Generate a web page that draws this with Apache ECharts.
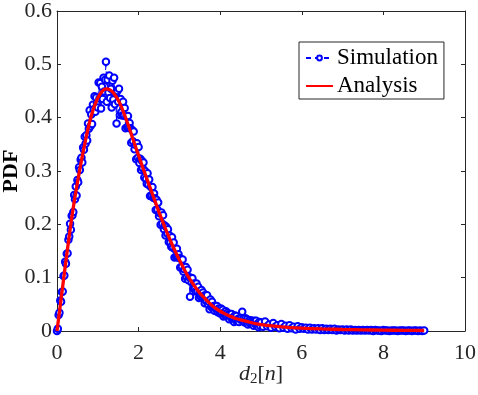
<!DOCTYPE html>
<html><head><meta charset="utf-8">
<script src="https://cdn.jsdelivr.net/npm/echarts@6/dist/echarts.min.js"></script>
<style>html,body{margin:0;padding:0;background:#fff}#c{width:478px;height:395px}</style>
</head><body><div id="c"></div>
<script>
// Tick labels
const xTicks = [0, 2, 4, 6, 8, 10];
const yTicks = [0, 0.1, 0.2, 0.3, 0.4, 0.5, 0.6];

// Analysis curve
const anaX = [0,0.1,0.2,0.3,0.4,0.5,0.6,0.7,0.8,0.9,1.0,1.1,1.2,1.3,1.4,1.5,1.6,1.7,1.8,1.9,2.0,2.1,2.2,2.3,2.4,2.5,2.6,2.7,2.8,2.9,3.0,3.1,3.2,3.3,3.4,3.5,3.6,3.7,3.8,3.9,4.0,4.1,4.2,4.3,4.4,4.5,4.6,4.7,4.8,4.9,5.0,5.5,6.0,6.5,7.0,7.5,8.0,8.5,9.0];
const anaY = [0,0.060,0.120,0.178,0.232,0.278,0.320,0.358,0.392,0.418,0.437,0.449,0.454,0.452,0.445,0.433,0.416,0.396,0.374,0.351,0.329,0.307,0.286,0.265,0.244,0.223,0.203,0.184,0.166,0.149,0.133,0.118,0.104,0.092,0.081,0.071,0.063,0.055,0.048,0.042,0.037,0.033,0.029,0.026,0.023,0.021,0.019,0.017,0.015,0.0135,0.012,0.0078,0.0053,0.0038,0.0028,0.0021,0.0016,0.0012,0.0009];

// Simulation samples
const simX = [
0.00,0.02,0.04,0.06,0.08,0.10,0.12,0.14,0.16,0.18,
0.20,0.22,0.24,0.26,0.28,0.30,0.32,0.34,0.36,0.38,
0.40,0.42,0.44,0.46,0.48,0.50,0.52,0.54,0.56,0.58,
0.60,0.62,0.64,0.66,0.68,0.70,0.72,0.74,0.76,0.78,
0.80,0.82,0.84,0.86,0.88,0.90,0.92,0.94,0.96,0.98,
1.00,1.02,1.04,1.06,1.08,1.10,1.12,1.14,1.16,1.18,
1.20,1.22,1.24,1.26,1.28,1.30,1.32,1.34,1.36,1.38,
1.40,1.42,1.44,1.46,1.48,1.50,1.52,1.54,1.56,1.58,
1.60,1.62,1.64,1.66,1.68,1.70,1.72,1.74,1.76,1.78,
1.80,1.82,1.84,1.86,1.88,1.90,1.92,1.94,1.96,1.98,
2.00,2.02,2.04,2.06,2.08,2.10,2.12,2.14,2.16,2.18,
2.20,2.22,2.24,2.26,2.28,2.30,2.32,2.34,2.36,2.38,
2.40,2.42,2.44,2.46,2.48,2.50,2.52,2.54,2.56,2.58,
2.60,2.62,2.64,2.66,2.68,2.70,2.72,2.74,2.76,2.78,
2.80,2.82,2.84,2.86,2.88,2.90,2.92,2.94,2.96,2.98,
3.00,3.02,3.04,3.06,3.08,3.10,3.12,3.14,3.16,3.18,
3.20,3.22,3.24,3.26,3.28,3.30,3.32,3.34,3.36,3.38,
3.40,3.42,3.44,3.46,3.48,3.50,3.52,3.54,3.56,3.58,
3.60,3.62,3.64,3.66,3.68,3.70,3.72,3.74,3.76,3.78,
3.80,3.82,3.84,3.86,3.88,3.90,3.92,3.94,3.96,3.98,
4.00,4.02,4.04,4.06,4.08,4.10,4.12,4.14,4.16,4.18,
4.20,4.22,4.24,4.26,4.28,4.30,4.32,4.34,4.36,4.38,
4.40,4.42,4.44,4.46,4.48,4.50,4.52,4.54,4.56,4.58,
4.60,4.62,4.64,4.66,4.68,4.70,4.72,4.74,4.76,4.78,
4.80,4.82,4.84,4.86,4.88,4.90,4.92,4.94,4.96,4.98,
5.00,
5.05,5.10,5.15,5.20,5.25,5.30,5.35,5.40,5.45,5.50,
5.55,5.60,5.65,5.70,5.75,5.80,5.85,5.90,5.95,6.00,
6.05,6.10,6.15,6.20,6.25,6.30,6.35,6.40,6.45,6.50,
6.55,6.60,6.65,6.70,6.75,6.80,6.85,6.90,6.95,7.00,
7.05,7.10,7.15,7.20,7.25,7.30,7.35,7.40,7.45,7.50,
7.55,7.60,7.65,7.70,7.75,7.80,7.85,7.90,7.95,8.00,
8.05,8.10,8.15,8.20,8.25,8.30,8.35,8.40,8.45,8.50,
8.55,8.60,8.65,8.70,8.75,8.80,8.85,8.90,8.95,9.00];
const simY = [
0.000,0.004,0.030,0.034,0.057,0.055,0.073,0.074,0.103,0.104,
0.130,0.126,0.145,0.146,0.171,0.177,0.201,0.190,0.216,0.217,
0.223,0.255,0.247,0.271,0.254,0.283,0.279,0.307,0.302,0.321,
0.325,0.316,0.344,0.340,0.364,0.351,0.367,0.357,0.389,0.379,
0.414,0.384,0.406,0.388,0.424,0.416,0.440,0.411,0.438,0.426,
0.419,0.466,0.436,0.465,0.417,0.458,0.435,0.475,0.449,0.471,
0.505,0.430,0.471,0.447,0.479,0.437,0.454,0.419,0.469,0.434,
0.475,0.425,0.446,0.389,0.450,0.430,0.454,0.405,0.435,0.410,
0.404,0.430,0.404,0.418,0.380,0.402,0.382,0.403,0.381,0.390,
0.380,0.353,0.377,0.356,0.374,0.341,0.349,0.322,0.352,0.325,
0.345,0.315,0.323,0.302,0.319,0.305,0.316,0.288,0.300,0.285,
0.276,0.296,0.274,0.284,0.253,0.270,0.253,0.270,0.250,0.258,
0.249,0.227,0.246,0.228,0.241,0.215,0.221,0.199,0.222,0.201,
0.217,0.191,0.198,0.179,0.195,0.183,0.191,0.167,0.179,0.166,
0.158,0.176,0.156,0.166,0.138,0.153,0.139,0.154,0.138,0.144,
0.137,0.119,0.135,0.121,0.134,0.111,0.116,0.098,0.120,0.101,
0.115,0.095,0.101,0.064,0.100,0.091,0.099,0.080,0.089,0.080,
0.074,0.089,0.075,0.083,0.062,0.074,0.064,0.077,0.065,0.072,
0.066,0.052,0.067,0.056,0.067,0.050,0.055,0.041,0.059,0.045,
0.055,0.043,0.047,0.038,0.047,0.041,0.047,0.035,0.042,0.036,
0.033,0.042,0.034,0.040,0.027,0.035,0.029,0.037,0.029,0.034,
0.031,0.022,0.032,0.026,0.032,0.022,0.026,0.017,0.029,0.020,
0.028,0.019,0.023,0.017,0.024,0.021,0.024,0.036,0.022,0.018,
0.016,0.024,0.017,0.022,0.012,0.019,0.015,0.020,0.016,0.019,
0.017,0.010,0.019,0.013,0.019,0.011,0.014,0.007,0.017,0.010,
0.016,
0.008,0.018,0.009,0.012,0.006,0.015,0.008,0.011,0.005,0.013,
0.006,0.010,0.004,0.011,0.005,0.008,0.003,0.009,0.004,0.007,
0.004,0.006,0.003,0.006,0.003,0.005,0.003,0.005,0.002,0.005,
0.002,0.004,0.002,0.004,0.002,0.004,0.001,0.003,0.002,0.003,
0.001,0.003,0.001,0.003,0.001,0.002,0.001,0.002,0.001,0.002,
0.001,0.002,0.001,0.002,0.000,0.002,0.001,0.001,0.000,0.002,
0.001,0.001,0.000,0.001,0.001,0.001,0.000,0.001,0.001,0.001,
0.000,0.001,0.001,0.000,0.001,0.001,0.000,0.001,0.000,0.001];

const FONT = "'Liberation Serif','Times New Roman',serif";
const AX = '#262626';
const chart = echarts.init(document.getElementById('c'), null, {renderer: 'canvas'});

const xCommon = {type: 'value', min: 0, max: 10, interval: 2,
  axisLine: {show: true, onZero: false, lineStyle: {color: AX, width: 1}},
  axisTick: {show: true, inside: true, length: 4, lineStyle: {color: AX}},
  splitLine: {show: false}};
const yCommon = {type: 'value', min: 0, max: 0.6, interval: 0.1,
  axisLine: {show: true, onZero: false, lineStyle: {color: AX, width: 1}},
  axisTick: {show: true, inside: true, length: 4, lineStyle: {color: AX}},
  splitLine: {show: false}};

chart.setOption({
  animation: false,
  grid: {left: 57, right: 13, top: 11, bottom: 64, containLabel: false, outerBoundsMode: 'none'},
  xAxis: [
    Object.assign({}, xCommon, {position: 'bottom',
      axisLabel: {color: AX, fontFamily: FONT, fontSize: 22, margin: 11,
        formatter: v => xTicks.includes(v) ? String(v) : ''},
      name: '{i|d}{s|2}{n|[}{i|n}{n|]}', nameLocation: 'middle', nameGap: 31, nameMoveOverlap: false,
      nameTextStyle: {rich: {
        i: {fontFamily: FONT, fontStyle: 'italic', fontSize: 22, color: AX},
        s: {fontFamily: FONT, fontSize: 15, color: AX, padding: [10, 0, 0, 0]},
        n: {fontFamily: FONT, fontSize: 22, color: AX}}}}),
    Object.assign({}, xCommon, {position: 'top', axisLabel: {show: false}})
  ],
  yAxis: [
    Object.assign({}, yCommon, {position: 'left',
      axisLabel: {color: AX, fontFamily: FONT, fontSize: 22, margin: 5,
        formatter: v => { const t = yTicks.find(k => Math.abs(k - v) < 1e-9); return t === undefined ? '' : String(t); }},
      name: 'PDF', nameLocation: 'middle', nameGap: 35, nameRotate: 90, nameMoveOverlap: false,
      nameTextStyle: {fontFamily: FONT, fontSize: 22, fontWeight: 'bold', color: '#000'}}),
    Object.assign({}, yCommon, {position: 'right', axisLabel: {show: false}})
  ],
  legend: {
    orient: 'vertical', left: 299, top: 42,
    padding: [4, 6, 1, 6], itemGap: 4, itemWidth: 27, itemHeight: 6,
    backgroundColor: '#fff', borderColor: AX, borderWidth: 1, borderRadius: 0,
    textStyle: {fontFamily: FONT, fontSize: 23, lineHeight: 24, color: '#000', padding: [0, 0, 0, -1]},
    data: [{name: 'Simulation'}, {name: 'Analysis', itemStyle: {opacity: 0}}]
  },
  series: [
    {name: 'Simulation', type: 'line', xAxisIndex: 0, yAxisIndex: 0,
      data: simX.map((x, i) => [x, simY[i]]),
      symbol: 'emptyCircle', symbolSize: 6.5, showAllSymbol: true,
      itemStyle: {color: '#0000ff', borderColor: '#0000ff', borderWidth: 2},
      lineStyle: {color: '#0000ff', width: 1, type: [5, 4]}, z: 2},
    {name: 'Analysis', type: 'line', xAxisIndex: 0, yAxisIndex: 0,
      data: anaX.map((x, i) => [x, anaY[i]]),
      symbol: 'none', smooth: 0.3,
      itemStyle: {color: '#ff0000'},
      lineStyle: {color: '#ff0000', width: 3.3}, z: 3}
  ]
});
</script></body></html>
